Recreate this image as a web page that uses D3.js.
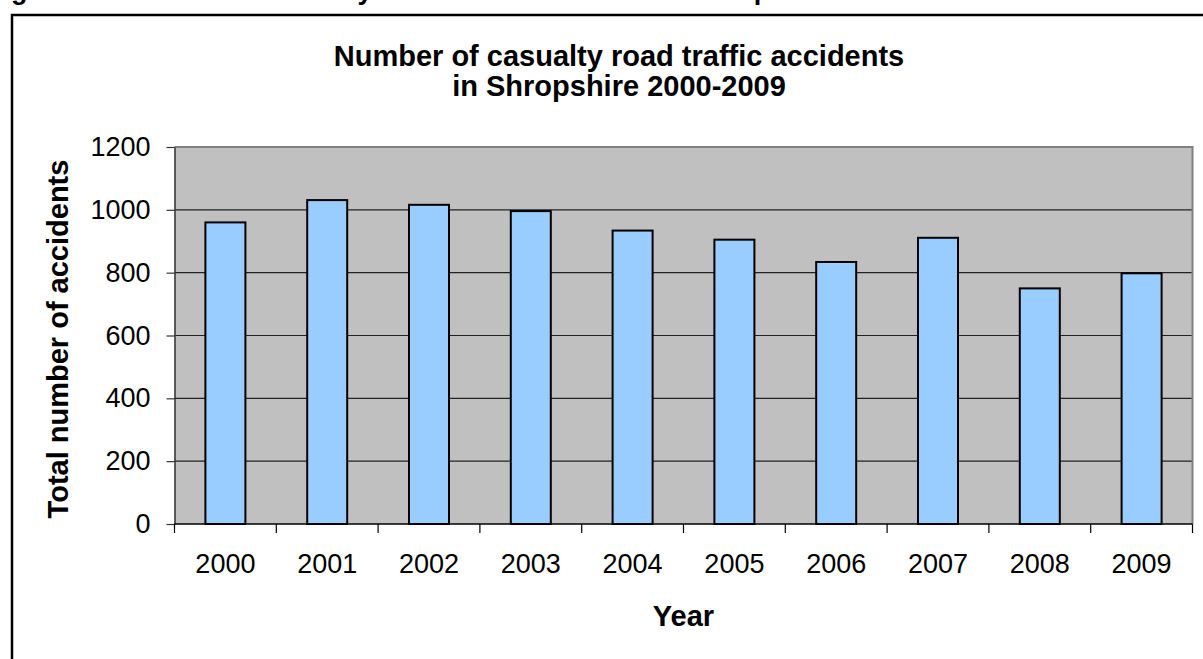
<!DOCTYPE html>
<html>
<head>
<meta charset="utf-8">
<script src="https://cdn.jsdelivr.net/npm/d3@7"></script>
<style>
  html, body { margin: 0; padding: 0; background: #fff; overflow: hidden; }
  svg { display: block; font-family: "Liberation Sans", Arial, sans-serif; }
</style>
</head>
<body>
<svg id="chart" width="1203" height="659"></svg>
<script>
// Casualty road traffic accidents in Shropshire, by year
const years = ["2000", "2001", "2002", "2003", "2004", "2005", "2006", "2007", "2008", "2009"];
const accidents = [960, 1031, 1016, 996, 934, 905, 834, 911, 750, 798];
const yTickValues = [0, 200, 400, 600, 800, 1000, 1200];

const titleLines = ["Number of casualty road traffic accidents", "in Shropshire 2000-2009"];
const captionText = "Figure 11: Number of casualty road traffic accidents in Shropshire";
const yAxisTitle = "Total number of accidents";
const xAxisTitle = "Year";

const svg = d3.select("#chart");

// Plot area bounds
const plot = { left: 174.5, right: 1192.5, top: 147, bottom: 524 };

const x = d3.scaleBand()
  .domain(years)
  .range([plot.left, plot.right])
  .paddingInner(0.607)
  .paddingOuter(0.3035);

const y = d3.scaleLinear()
  .domain([0, 1200])
  .range([plot.bottom, plot.top]);

// Caption line above the chart box (runs off the top of the page)
svg.append("text")
  .attr("x", -13)
  .attr("y", -1)
  .attr("font-size", 27)
  .attr("font-weight", "bold")
  .attr("fill", "#000")
  .text(captionText);

// Chart frame
svg.append("rect")
  .attr("x", 12).attr("y", 15)
  .attr("width", 1300).attr("height", 700)
  .attr("fill", "#fff")
  .attr("stroke", "#000")
  .attr("stroke-width", 2.5);

// Plot background
svg.append("rect")
  .attr("x", plot.left).attr("y", plot.top)
  .attr("width", plot.right - plot.left)
  .attr("height", plot.bottom - plot.top)
  .attr("fill", "#c0c0c0");

// Horizontal gridlines
svg.append("g")
  .selectAll("line")
  .data(yTickValues.filter(v => v > 0 && v < 1200))
  .join("line")
  .attr("x1", plot.left).attr("x2", plot.right)
  .attr("y1", d => y(d)).attr("y2", d => y(d))
  .attr("stroke", "#222")
  .attr("stroke-width", 1.2);

// Plot area border (top and right)
svg.append("path")
  .attr("d", `M${plot.left},${y(1200)}H${plot.right}V${plot.bottom}`)
  .attr("fill", "none")
  .attr("stroke", "#808080")
  .attr("stroke-width", 2);

// Bars
svg.append("g")
  .selectAll("rect")
  .data(years.map((yr, i) => ({ yr, v: accidents[i] })))
  .join("rect")
  .attr("x", d => x(d.yr))
  .attr("y", d => y(d.v))
  .attr("width", x.bandwidth())
  .attr("height", d => y(0) - y(d.v))
  .attr("fill", "#99ccff")
  .attr("stroke", "#000")
  .attr("stroke-width", 2);

// Y axis
const yAxis = svg.append("g")
  .attr("transform", `translate(${plot.left},0)`)
  .call(d3.axisLeft(y)
    .tickValues(yTickValues)
    .tickFormat(d3.format("d"))
    .tickSize(8)
    .tickPadding(16)
    .tickSizeOuter(0));
yAxis.select(".domain").attr("stroke", "#333").attr("stroke-width", 1.5);
yAxis.selectAll(".tick line").attr("stroke", "#333").attr("stroke-width", 1.2);
yAxis.selectAll(".tick text")
  .attr("font-size", 27)
  .attr("font-family", "Liberation Sans, Arial, sans-serif")
  .attr("fill", "#000");

// X axis: labels centred in each band, tick marks on band boundaries
const xAxis = svg.append("g")
  .attr("transform", `translate(0,${plot.bottom})`)
  .call(d3.axisBottom(x).tickSize(0).tickPadding(30).tickSizeOuter(0));
xAxis.select(".domain").remove();
xAxis.selectAll(".tick text")
  .attr("font-size", 27)
  .attr("font-family", "Liberation Sans, Arial, sans-serif")
  .attr("fill", "#000");

const step = x.step();
const boundaries = years.map(yr => x(yr) - (step - x.bandwidth()) / 2).concat([plot.right]);
svg.append("line")
  .attr("x1", plot.left).attr("x2", plot.right)
  .attr("y1", plot.bottom).attr("y2", plot.bottom)
  .attr("stroke", "#000").attr("stroke-width", 1.5);
svg.append("g")
  .selectAll("line")
  .data(boundaries)
  .join("line")
  .attr("x1", d => d).attr("x2", d => d)
  .attr("y1", plot.bottom).attr("y2", plot.bottom + 9)
  .attr("stroke", "#000")
  .attr("stroke-width", 1.2);

// Chart title
svg.append("g")
  .selectAll("text")
  .data(titleLines)
  .join("text")
  .attr("x", 619)
  .attr("y", (d, i) => 66 + i * 30)
  .attr("text-anchor", "middle")
  .attr("font-size", 29)
  .attr("font-weight", "bold")
  .text(d => d);

// Axis titles
svg.append("text")
  .attr("transform", "translate(68,339) rotate(-90)")
  .attr("text-anchor", "middle")
  .attr("font-size", 29)
  .attr("font-weight", "bold")
  .text(yAxisTitle);

svg.append("text")
  .attr("x", (plot.left + plot.right) / 2)
  .attr("y", 626)
  .attr("text-anchor", "middle")
  .attr("font-size", 29)
  .attr("font-weight", "bold")
  .text(xAxisTitle);
</script>
</body>
</html>
